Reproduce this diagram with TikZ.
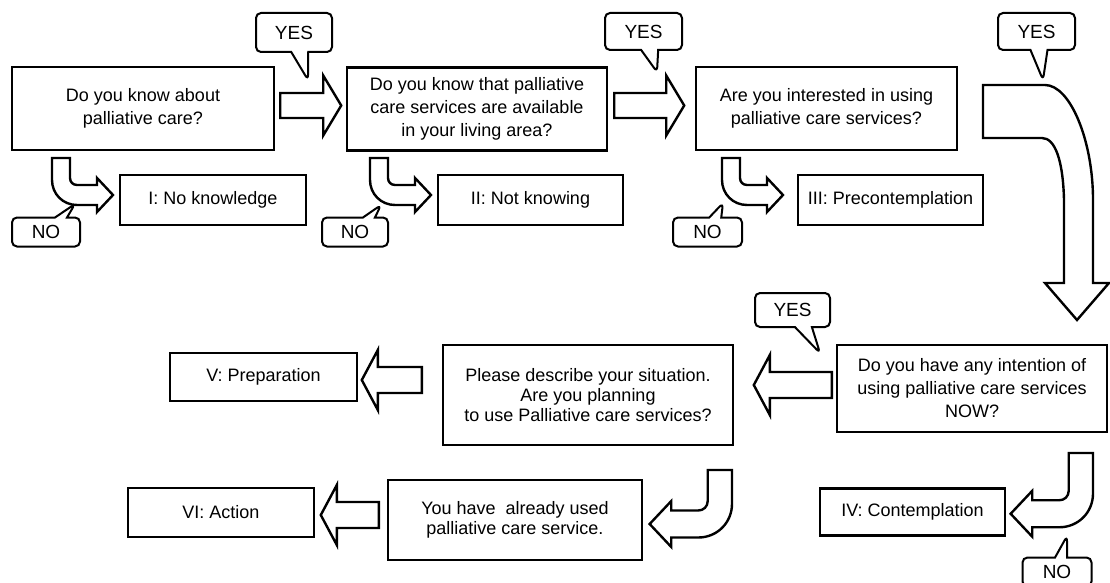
\documentclass[tikz,border=0pt]{standalone}
\usepackage{fontspec}
\setmainfont{Liberation Sans}
\usetikzlibrary{calc,shapes.callouts}

\tikzset{
  qbox/.style={draw, line width=2.4pt, align=center, inner sep=0pt, font=\fontsize{18}{23}\selectfont},
  bubble/.style={rectangle callout, draw, fill=white, line width=2pt, rounded corners=5pt, inner sep=0pt, callout pointer width=17pt, font=\fontsize{19}{19}\selectfont},
  nobubble/.style={bubble, callout pointer width=12pt},
  barrow/.style={draw, fill=white, line width=2.4pt, line join=miter},
  rblock/.pic={\draw[barrow] (0,-12.5) -- (#1-18,-12.5) -- (#1-18,-30) -- (#1,0) -- (#1-18,30) -- (#1-18,12.5) -- (0,12.5) -- cycle;},
  lblock/.pic={\draw[barrow] (0,-13) -- (-#1+16,-13) -- (-#1+16,-30) -- (-#1,0) -- (-#1+16,30) -- (-#1+16,13) -- (0,13) -- cycle;},
  turnarrow/.pic={\draw[barrow] (0,0) -- (18,0) -- (18,#1-7) .. controls (18,#1-3) and (21,#1) .. (25,#1) -- (45,#1) -- (45,#1-7) -- (61,#1+10) -- (45,#1+27) -- (45,#1+20) -- (25,#1+20) .. controls (11,#1+20) and (0,#1+9) .. (0,#1-5) -- cycle;}
}

\begin{document}
\begin{tikzpicture}[x=1pt, y=-1pt]
\useasboundingbox (0,0) rectangle (1110,583);

% questions, first row
\node[qbox, minimum width=262, minimum height=83] (knowpc) at (143,108.5) {Do you know about\\palliative care?};
\node[qbox, minimum width=260, minimum height=83] (knowarea) at (477,109) {Do you know that palliative\\care services are available\\in your living area?};
\node[qbox, minimum width=261, minimum height=83] (interest) at (826.5,108.5) {Are you interested in using\\palliative care services?};

% stages I-III
\node[qbox, minimum width=186, minimum height=50] (noknow) at (213,200) {I: No knowledge};
\node[qbox, minimum width=185, minimum height=50] (notknow) at (530.5,200) {II: Not knowing};
\node[qbox, minimum width=185, minimum height=50] (precon) at (890.5,200) {III: Precontemplation};

% second part
\node[qbox, minimum width=270, minimum height=87] (intendnow) at (972,388.5) {Do you have any intention of\\using palliative care services\\NOW?};
\node[qbox, minimum width=290, minimum height=100, font=\fontsize{18}{20}\selectfont] (describe) at (588,395) {Please describe your situation.\\Are you planning\\to use Palliative care services?};
\node[qbox, minimum width=187, minimum height=48] (prep) at (263.5,377) {V: Preparation};
\node[qbox, minimum width=254, minimum height=80, font=\fontsize{18}{20}\selectfont] (used) at (515,520) {You have\ \ already used\\palliative care service.};
\node[qbox, minimum width=186, minimum height=49] (action) at (221,512.5) {VI: Action};
\node[qbox, minimum width=185, minimum height=47] (contem) at (912.5,512) {IV: Contemplation};

% yes arrows
\pic at ($(knowpc.east)+(5,-3)$) {rblock=61};
\pic at ($(knowarea.east)+(6,-3.5)$) {rblock=70};
\pic at ($(intendnow.west)+(-4,-3.5)$) {lblock=78};
\pic at ($(describe.west)+(-20,-15)$) {lblock=60};
\pic at ($(used.west)+(-8,-5)$) {lblock=58};

% no arrows
\pic at (52,158) {turnarrow=27};
\pic at (370,158) {turnarrow=27};
\pic at (722,158) {turnarrow=27};
\pic[xscale=-1.35, yscale=1.35] at (732,470) {turnarrow=30};
\pic[xscale=-1.35, yscale=1.35] at (1093,453) {turnarrow=35};

% big bend
\draw[barrow] (983,85) -- (1045,85) .. controls (1070,85) and (1093,140) .. (1093,200) -- (1093,283) -- (1109,283) -- (1077,320) -- (1045,283) -- (1064,283) -- (1064,200) .. controls (1063,160) and (1055,138) .. (1042,138) -- (983,138) -- cycle;

% answers
\node[bubble, minimum width=76, minimum height=39, callout absolute pointer={(308,80)}] (yes1) at (294,32.5) {YES};
\node[bubble, minimum width=77, minimum height=37, callout absolute pointer={(657,72)}] (yes2) at (643.5,31.5) {YES};
\node[bubble, minimum width=77, minimum height=37, callout absolute pointer={(1043,80)}] (yes3) at (1036.5,31.5) {YES};
\node[bubble, minimum width=75, minimum height=34, callout absolute pointer={(820,353)}] (yes4) at (792.5,310) {YES};
\node[nobubble, minimum width=68, minimum height=29, callout absolute pointer={(75,204)}] (no1) at (46,232) {NO};
\node[nobubble, minimum width=66, minimum height=29, callout absolute pointer={(381,205)}] (no2) at (355,232) {NO};
\node[nobubble, minimum width=69, minimum height=29, callout absolute pointer={(723,203)}] (no3) at (707.5,232) {NO};
\node[nobubble, minimum width=69, minimum height=29, callout absolute pointer={(1067,536)}] (no4) at (1057,572) {NO};
\end{tikzpicture}
\end{document}
